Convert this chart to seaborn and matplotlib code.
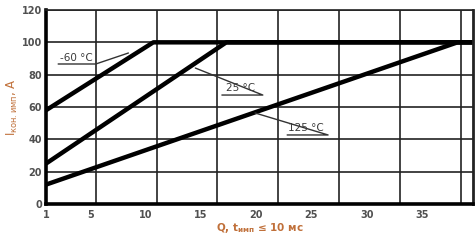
import numpy as np
import pandas as pd
import matplotlib
matplotlib.use("Agg")
import matplotlib.pyplot as plt
import seaborn as sns

# ---- data ----
series = ["-60 °C", "25 °C", "125 °C"]
x_start = [1, 1, 1]
y_start = [58, 25, 12]
x_sat = [10.7, 17.3, 38.2]   # Q where current reaches the limit
y_sat = [100, 100, 100]
x_end = 39.6

x_ticks = [1, 5, 10, 15, 20, 25, 30, 35]
y_ticks = [0, 20, 40, 60, 80, 100, 120]
x_grid = [5.5, 11, 16.5, 22, 27.5, 33, 38.5]

# label pointer geometry (text pos, underline start/end, pointer target)
lbl_text = [(2.3, 90.5), (17.3, 71.5), (22.9, 47.3)]
lbl_under = [(2.1, 5.5, 86.6), (16.9, 20.6, 67.4), (22.8, 26.5, 42.7)]
lbl_target = [(8.45, 93.4), (14.5, 84.1), (19.9, 56.3)]

rows = []
for s, x0, y0, xs, ys in zip(series, x_start, y_start, x_sat, y_sat):
    for xx, yy in [(x0, y0), (xs, ys), (x_end, ys)]:
        rows.append({"series": s, "Q": xx, "I": yy})
df = pd.DataFrame(rows)

sns.set_style("white")
plt.rcParams["font.family"] = ["DejaVu Sans"]

fig = plt.figure(figsize=(4.77, 2.45), dpi=100)
ax = fig.add_axes([46 / 477, 1 - 204 / 245, (473 - 46) / 477, (204 - 10) / 245])

sns.lineplot(data=df, x="Q", y="I", hue="series", palette=["black"] * 3,
             linewidth=3.2, legend=False, ax=ax, sort=False,
             solid_capstyle="butt")

ax.set_xlim(1, x_end)
ax.set_ylim(0, 120)
ax.set_xticks(x_ticks)
ax.set_yticks(y_ticks)
ax.set_xticks(x_grid, minor=True)
ax.grid(False)
ax.grid(True, which="minor", axis="x", color="#222222", linewidth=1.2)
ax.grid(True, which="major", axis="y", color="#222222", linewidth=1.2)
ax.set_axisbelow(True)
ax.tick_params(axis="both", which="both", length=0)
ax.tick_params(axis="x", pad=4)
ax.tick_params(axis="y", pad=3)
for lab in ax.get_xticklabels() + ax.get_yticklabels():
    lab.set_fontsize(7)
    lab.set_fontweight("bold")
    lab.set_color("#505050")

for side in ["left", "bottom"]:
    ax.spines[side].set_linewidth(2.6)
    ax.spines[side].set_color("black")
ax.spines["right"].set_linewidth(2.0)
ax.spines["right"].set_color("#222222")
ax.spines["top"].set_linewidth(1.2)
ax.spines["top"].set_color("#222222")

for s, (tx, ty), (ux0, ux1, uy), (px, py) in zip(series, lbl_text, lbl_under, lbl_target):
    ax.text(tx, ty, s, fontsize=7.5, color="#3a3a3a", va="center", ha="left")
    ax.plot([ux0, ux1, px], [uy, uy, py], color="#333333", linewidth=1.0)

orange = "#c0703a"
ax.set_xlabel(r"Q, t$_{\mathregular{имп}}$ ≤ 10 мс", fontsize=7.5, color=orange,
              fontweight="bold", labelpad=1)
ax.set_ylabel(r"I$_{\mathregular{кон.имп}}$, A", fontsize=8.5, color=orange,
              labelpad=2)
ax.yaxis.set_label_coords(-0.062, 0.5)

fig.savefig("out.png", dpi=100)
